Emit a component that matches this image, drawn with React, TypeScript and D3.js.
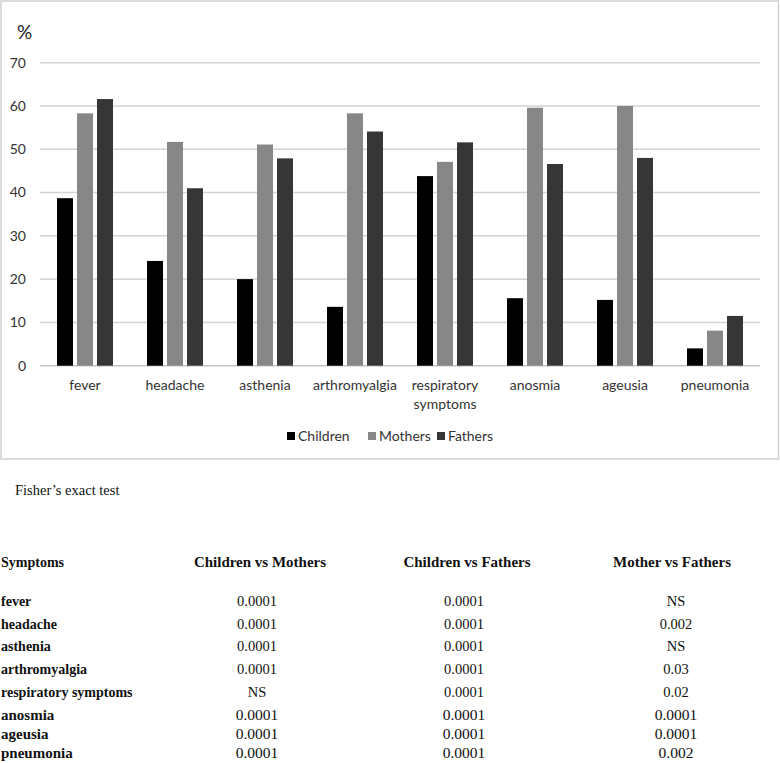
import React from "react";
import * as d3 from "d3";

const categories = ["fever", "headache", "asthenia", "arthromyalgia", "respiratory symptoms", "anosmia", "ageusia", "pneumonia"];
const seriesNames = ["Children", "Mothers", "Fathers"];
const children = [38.7, 24.2, 20.0, 13.6, 43.8, 15.6, 15.2, 4.0];
const mothers = [58.3, 51.7, 51.1, 58.3, 47.1, 59.6, 60.0, 8.1];
const fathers = [61.6, 41.0, 47.9, 54.1, 51.6, 46.6, 48.0, 11.5];
const yTicks = [0, 10, 20, 30, 40, 50, 60, 70];

const tableHeaders = ["Symptoms", "Children vs Mothers", "Children vs Fathers", "Mother vs Fathers"];
const tableRowLabels = ["fever", "headache", "asthenia", "arthromyalgia", "respiratory symptoms", "anosmia", "ageusia", "pneumonia"];
const childrenVsMothers = ["0.0001", "0.0001", "0.0001", "0.0001", "NS", "0.0001", "0.0001", "0.0001"];
const childrenVsFathers = ["0.0001", "0.0001", "0.0001", "0.0001", "0.0001", "0.0001", "0.0001", "0.0001"];
const motherVsFathers = ["NS", "0.002", "NS", "0.03", "0.02", "0.0001", "0.0001", "0.002"];

const colors = ["#000000", "#878787", "#363636"];
const series = [children, mothers, fathers];

export default function App() {
  const W = 780, H = 763;
  const x = d3.scaleBand<string>().domain(categories).range([40, 760]).paddingInner(0).paddingOuter(0);
  const y = d3.scaleLinear().domain([0, 70]).range([365.7, 62.7]);
  const barW = 16, barStep = 20;
  const chartFont = "Lato, 'Open Sans', sans-serif";
  const serif = "'Liberation Serif', 'Times New Roman', serif";
  const rowY = [601, 624, 646, 669, 692, 715, 734, 753];
  const colX = [257, 464, 676];
  const legendX = [287, 368, 437];

  return (
    <svg width={W} height={H} style={{ position: "absolute", left: 0, top: 0, background: "#fff" }}>
      <rect x={1} y={1} width={777.5} height={458} fill="#fff" stroke="#d0d0d0" strokeWidth={1.5} />
      <text x={17} y={39} fontFamily={chartFont} fontSize={19} fill="#222">%</text>
      {yTicks.map((t) => (
        <g key={t}>
          <line x1={40} x2={760} y1={y(t)} y2={y(t)} stroke={t === 0 ? "#c4c4c4" : "#d4d4d4"} strokeWidth={1.5} />
          <text x={26} y={y(t)} dy="0.35em" textAnchor="end" fontFamily={chartFont} fontSize={14} fill="#333">{t}</text>
        </g>
      ))}
      {categories.map((c, i) => {
        const cx = (x(c) as number) + x.bandwidth() / 2;
        const words = c === "respiratory symptoms" ? c.split(" ") : [c];
        return (
          <g key={c}>
            {series.map((s, k) => {
              const bx = cx - barW / 2 + (k - 1) * barStep;
              return <rect key={k} x={bx} y={y(s[i])} width={barW} height={y(0) - y(s[i])} fill={colors[k]} />;
            })}
            <text x={cx} y={390} textAnchor="middle" fontFamily={chartFont} fontSize={14} fill="#333">
              {words.map((w, wi) => (
                <tspan key={w} x={cx} dy={wi === 0 ? 0 : 19}>{w}</tspan>
              ))}
            </text>
          </g>
        );
      })}
      {seriesNames.map((n, k) => (
        <g key={n}>
          <rect x={legendX[k]} y={432} width={8} height={8} fill={colors[k]} />
          <text x={legendX[k] + 11} y={441} fontFamily={chartFont} fontSize={14} fill="#333">{n}</text>
        </g>
      ))}
      <text x={15} y={495} fontFamily={serif} fontSize={14.5} fill="#111">Fisher’s exact test</text>
      <text x={1} y={567} fontFamily={serif} fontSize={14} fontWeight="bold" fill="#111">{tableHeaders[0]}</text>
      {tableHeaders.slice(1).map((h, j) => (
        <text key={h} x={[260, 467, 672][j]} y={567} textAnchor="middle" fontFamily={serif} fontSize={15} fontWeight="bold" fill="#111">{h}</text>
      ))}
      {tableRowLabels.map((r, i) => {
        const fs = i >= 5 ? 15.5 : 14.5;
        return (
          <g key={r}>
            <text x={1} y={rowY[i] + 5} fontFamily={serif} fontSize={fs - 0.5} fontWeight="bold" fill="#111">{r}</text>
            {[childrenVsMothers, childrenVsFathers, motherVsFathers].map((col, j) => (
              <text key={j} x={colX[j]} y={rowY[i] + 5} textAnchor="middle" fontFamily={serif} fontSize={fs} fill="#111">{col[i]}</text>
            ))}
          </g>
        );
      })}
    </svg>
  );
}
